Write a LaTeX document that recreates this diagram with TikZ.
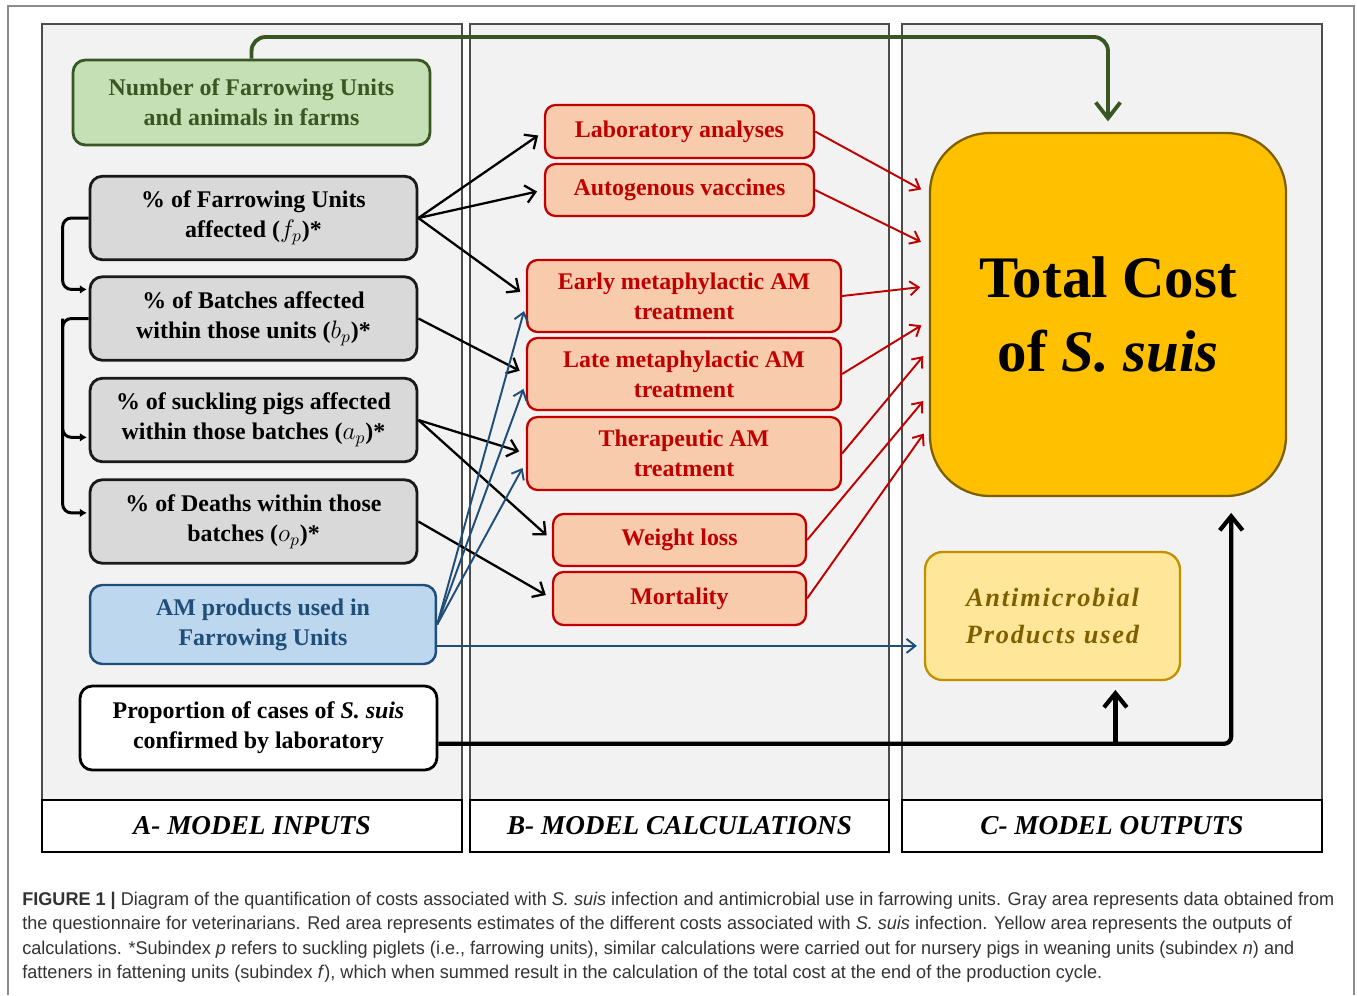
\documentclass[tikz,border=0pt]{standalone}
\usepackage{fontspec}
\setmainfont{Liberation Serif}
\newfontfamily\capfont[FakeStretch=0.98]{Liberation Sans}
\usepackage{tikz}
\usetikzlibrary{
    arrows.meta,
    calc,
    positioning,
    shapes,
}
\definecolor{panelgray}{HTML}{F2F2F2}
\definecolor{boxgray}{HTML}{D9D9D9}
\definecolor{grnfill}{HTML}{C5E0B4}
\definecolor{grnline}{HTML}{385723}
\definecolor{blufill}{HTML}{BDD7EE}
\definecolor{bluline}{HTML}{1F4E79}
\definecolor{redfill}{HTML}{F8CBAD}
\definecolor{redline}{HTML}{C00000}
\definecolor{totfill}{HTML}{FFC000}
\definecolor{totline}{HTML}{7F6000}
\definecolor{ylwfill}{HTML}{FFE699}
\definecolor{ylwline}{HTML}{BF9000}
\definecolor{captext}{HTML}{333333}

\tikzstyle{panel}=[draw=black!70,fill=panelgray,line width=1pt,rectangle]
\tikzstyle{panellbl}=[draw=black,fill=white,line width=1.5pt,rectangle,font=\fontsize{15.5}{18}\selectfont\bfseries\itshape]
\tikzstyle{box}=[draw,rectangle,rounded corners=7pt,line width=1.6pt,align=center,font=\fontsize{13.6}{17}\selectfont\bfseries,inner sep=1mm]
\tikzstyle{inbox}=[box,fill=boxgray,draw=black!90,minimum width=6.54cm,minimum height=1.67cm]
\tikzstyle{costbox}=[box,fill=redfill,draw=redline,text=redline,line width=1.3pt,rounded corners=6pt]
\tikzstyle{blk}=[-{Straight Barb[length=5.5pt,width=10pt]},line width=1.3pt,shorten >=4pt]
\tikzstyle{blu}=[-{Straight Barb[length=5pt,width=8pt]},line width=1.1pt,draw=bluline,shorten >=4pt]
\tikzstyle{redarr}=[-{Straight Barb[length=5pt,width=8pt]},line width=1.1pt,draw=redline,shorten >=5pt]
\tikzstyle{grnarr}=[-{Straight Barb[length=9pt,width=14pt]},line width=2.2pt,draw=grnline,rounded corners=8pt,shorten >=6pt]
\tikzstyle{thkarr}=[-{Straight Barb[length=8pt,width=13pt]},line width=2.4pt,rounded corners=4pt]
\tikzstyle{brk}=[-{Latex[length=4pt,width=5pt]},line width=1.7pt,rounded corners=5pt,shorten >=1pt]
\tikzstyle{capline}=[anchor=base west,inner sep=0pt,text=captext,font=\capfont\fontsize{10.5}{12}\selectfont]

\begin{document}
\begin{tikzpicture}[x=0.02cm,y=-0.02cm]
    \useasboundingbox (0,0) rectangle (1357,995);
    \draw[black!45,line width=0.8pt] (8,995) -- (8,6) -- (1354,6) -- (1354,995);

    % the three areas
    \node[panel,minimum width=8.4cm,minimum height=15.52cm] (pA) at (252,412) {};
    \node[panel,minimum width=8.38cm,minimum height=15.52cm] (pB) at (679.5,412) {};
    \node[panel,minimum width=8.4cm,minimum height=15.52cm] (pC) at (1112,412) {};
    \node[panellbl,minimum width=8.4cm,minimum height=1.04cm] (lblA) at (252,826) {A- MODEL INPUTS};
    \node[panellbl,minimum width=8.38cm,minimum height=1.04cm] (lblB) at (679.5,826) {B- MODEL CALCULATIONS};
    \node[panellbl,minimum width=8.4cm,minimum height=1.04cm] (lblC) at (1112,826) {C- MODEL OUTPUTS};

    % inputs
    \node[box,fill=grnfill,draw=grnline,text=grnline,minimum width=7.14cm,minimum height=1.7cm] (num) at (251.5,102.5) {Number of Farrowing Units\\and animals in farms};
    \node[inbox] (fp) at (253.5,218) {\% of Farrowing Units\\affected ($f_p$)*};
    \node[inbox] (bp) at (253.5,318.5) {\% of Batches affected\\within those units ($b_p$)*};
    \node[inbox] (ap) at (253.5,420) {\% of suckling pigs affected\\within those batches ($a_p$)*};
    \node[inbox] (op) at (253.5,521.5) {\% of Deaths within those\\batches ($o_p$)*};
    \node[box,fill=blufill,draw=bluline,text=bluline,line width=1.4pt,minimum width=6.92cm,minimum height=1.58cm] (amp) at (263,624.5) {AM products used in\\Farrowing Units};
    \node[box,fill=white,draw=black,minimum width=7.14cm,minimum height=1.68cm] (prop) at (258.5,728) {Proportion of cases of \textit{S. suis}\\confirmed by laboratory};

    % calculations
    \node[costbox,minimum width=5.38cm,minimum height=1.06cm] (lab) at (679.5,131.5) {Laboratory analyses};
    \node[costbox,minimum width=5.38cm,minimum height=1.04cm] (auto) at (679.5,190) {Autogenous vaccines};
    \node[costbox,minimum width=6.28cm,minimum height=1.44cm] (early) at (684,296) {Early metaphylactic AM\\treatment};
    \node[costbox,minimum width=6.28cm,minimum height=1.44cm] (late) at (684,374) {Late metaphylactic AM\\treatment};
    \node[costbox,minimum width=6.28cm,minimum height=1.46cm] (thera) at (684,453.5) {Therapeutic AM\\treatment};
    \node[costbox,minimum width=5.06cm,minimum height=1.04cm] (wloss) at (679.5,540) {Weight loss};
    \node[costbox,minimum width=5.06cm,minimum height=1.06cm] (mort) at (679.5,598.5) {Mortality};

    % outputs
    \node[box,fill=totfill,draw=totline,line width=1.3pt,rounded corners=34pt,minimum width=7.12cm,minimum height=7.26cm,font=\fontsize{33.5}{42.5}\selectfont\bfseries] (total) at (1108,314.5) {Total Cost\\of \textit{S. suis}};
    \node[box,fill=ylwfill,draw=ylwline,text=totline,line width=1.3pt,rounded corners=10pt,minimum width=5.1cm,minimum height=2.56cm,font=\fontsize{15}{20.5}\selectfont\bfseries\itshape\addfontfeature{LetterSpace=7}] (amprod) at (1052.5,616) {Antimicrobial\\Products used};

    % brackets on the left
    \draw[brk] (fp.west) -- ++(-26,0) |- (bp.170);
    \draw[brk] (bp.west) -- ++(-26,0) coordinate (bk) |- (op.177);
    \draw[brk] (bk) |- (ap.186);

    % inputs to calculations
    \foreach \a/\b in {fp/lab,fp/auto,fp/early,bp/late,ap/thera,ap/wloss,op/mort}
        \draw[blk] (\a.east) -- (\b.west);
    \foreach \b in {early,late,thera}
        \draw[blu] (amp.east) -- (\b.183);
    \draw[blu] (amp.353) -- (amp.353 -| amprod.west);

    % calculations to total cost
    \foreach \a/\g in {lab/146,auto/159,early/171,late/182,thera/191,wloss/204,mort/212}
        \draw[redarr] (\a.east) -- (total.\g);

    \coordinate (gtop) at (0,37);
    \draw[grnarr] (num.north) -- (num.north |- gtop) -| (total.north);
    \draw[thkarr,shorten >=9pt] (prop.-5) -| (total.-56);
    \draw[thkarr,shorten >=5pt] (amprod.-46 |- prop.-5) -- (amprod.-46);

    % caption
    \node[capline] (cap1) at (22,905) {\textbf{FIGURE 1 |} Diagram of the quantification of costs associated with \textit{S. suis} infection and antimicrobial use in farrowing units. Gray area represents data obtained from};
    \node[capline] (cap2) at (22,929.5) {the questionnaire for veterinarians. Red area represents estimates of the different costs associated with \textit{S. suis} infection. Yellow area represents the outputs of};
    \node[capline] (cap3) at (22,954) {calculations. *Subindex \textit{p} refers to suckling piglets (i.e., farrowing units), similar calculations were carried out for nursery pigs in weaning units (subindex \textit{n}) and};
    \node[capline] (cap4) at (22,978.5) {fatteners in fattening units (subindex \textit{f}), which when summed result in the calculation of the total cost at the end of the production cycle.};
\end{tikzpicture}
\end{document}
